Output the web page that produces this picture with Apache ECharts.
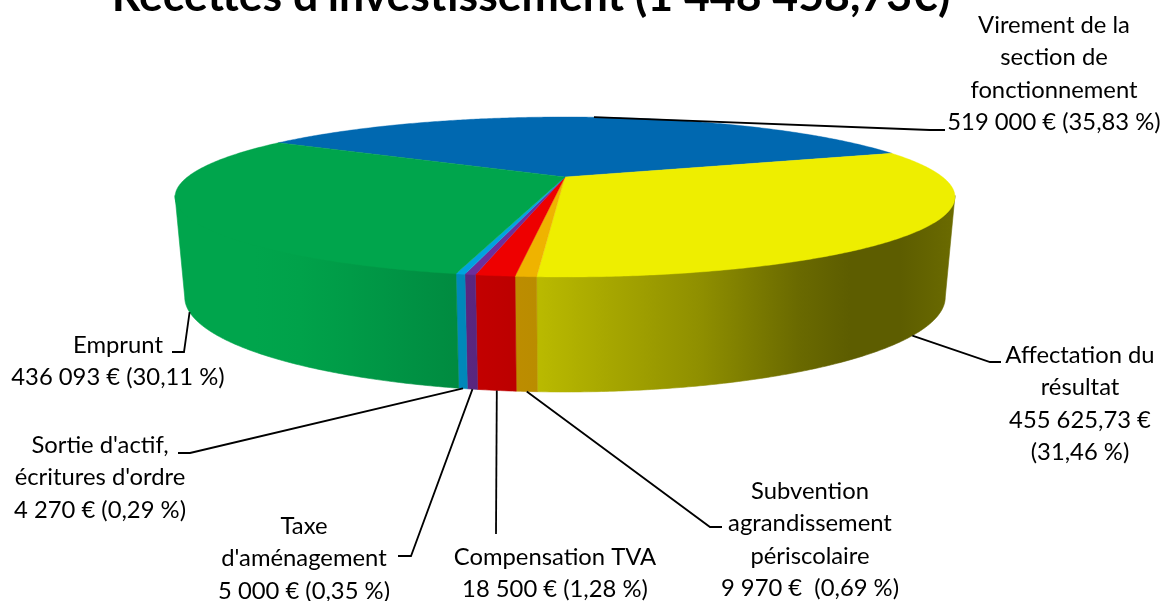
<!DOCTYPE html>
<html><head><meta charset="utf-8">
<script src="https://cdn.jsdelivr.net/npm/echarts@6/dist/echarts.min.js"></script>
<style>html,body{margin:0;padding:0;background:#fff}#c{width:1164px;height:601px}</style>
</head><body><div id="c"></div>
<script>
// --- data ---
const titleText = "Recettes d'investissement (1 448 458,73€)";
const categories = ["Virement de la section de fonctionnement","Affectation du résultat","Subvention agrandissement périscolaire","Compensation TVA","Taxe d'aménagement","Sortie d'actif, écritures d'ordre","Emprunt"];
const values = [519000, 455625.73, 9970, 18500, 5000, 4270, 436093];
const labelLines = [
  ["Virement de la","section de","fonctionnement","519 000 € (35,83 %)"],
  ["Affectation du","résultat","455 625,73 €","(31,46 %)"],
  ["Subvention","agrandissement","périscolaire","9 970 €  (0,69 %)"],
  ["Compensation TVA","18 500 € (1,28 %)"],
  ["Taxe","d'aménagement","5 000 € (0,35 %)"],
  ["Sortie d'actif,","écritures d'ordre","4 270 € (0,29 %)"],
  ["Emprunt","436 093 € (30,11 %)"]
];
const colors = ["#0068B0","#EEEE00","#EFB300","#EE0000","#6D2E9A","#00A3DF","#00A54C"];

// --- view geometry (perspective projection of the disc) ---
const view = {cx:565, k:0.25, startDeg:-59,
  top:{A:377.6, Y0:177, B:75}, bottom:{A:368.2, Y0:273.3, B:89}};
const wallShade = [[175,1],[255,1],[300,.98],[350,.94],[400,.89],[455,.84],[475,.82],[515,.79],[537,.78],[600,.71],[700,.6],[800,.44],[850,.39],[900,.39],[955,.45]];
// text block centre x, first-line middle y; leader bend and end points
const labelPos = [
  {x:1054,y:25,  bend:[930,130],end:[945,130]},
  {x:1080,y:355, bend:[990,362],end:[1001,362]},
  {x:810, y:491, bend:[710,527],end:[722,527]},
  {x:555, y:557, bend:[496,534],end:null},
  {x:304, y:526, bend:[411,556],end:[398,556]},
  {x:100, y:445, bend:[190,453],end:[178,453]},
  {x:118, y:345, bend:[184,352],end:[172,352]}
];
const lineH = 32.5;
const labelFont = "23.8px Lato";

const total = values.reduce((a,b)=>a+b,0);
const spans = []; {
  let a = view.startDeg;
  values.forEach(v=>{const d=v/total*360; spans.push([a,a+d]); a+=d;});
}
function project(deg, plane){
  const r=deg*Math.PI/180, u=Math.sin(r), v=Math.cos(r), w=1+view.k*v;
  return [view.cx+plane.A*u/w, plane.Y0-plane.B*v/w];
}
function arc(a,b,plane){
  const pts=[], n=Math.max(2,Math.ceil(Math.abs(b-a)/0.5));
  for(let i=0;i<=n;i++) pts.push(project(a+(b-a)*i/n,plane));
  return pts;
}
function shade(hex,f){
  const n=parseInt(hex.slice(1),16);
  const c=[n>>16&255,n>>8&255,n&255].map(x=>Math.round(x*f));
  return `rgb(${c[0]},${c[1]},${c[2]})`;
}
const silR = Math.acos(-view.k)*180/Math.PI, silL = 360-silR;
function wallRange(s){
  const a=Math.max(s[0],silR), b=Math.min(s[1],silL);
  return b>a?[a,b]:null;
}
function renderSlice(params){
  const i=params.dataIndex, s=spans[i], col=colors[i], children=[];
  const wr=wallRange(s);
  if(wr){
    // the wall's upper edge tucks slightly under the top face so no seam shows
    const upper=arc(wr[0],wr[1],view.top).map(p=>[p[0],p[1]-1.5]);
    const pts=upper.concat(arc(wr[0],wr[1],view.bottom).reverse());
    const x0=wallShade[0][0], x1=wallShade[wallShade.length-1][0];
    const fill={type:'linear',x:x0,y:0,x2:x1,y2:0,global:true,
      colorStops:wallShade.map(p=>({offset:(p[0]-x0)/(x1-x0),color:shade(col,p[1])}))};
    children.push({type:'polygon',shape:{points:pts},style:{fill:fill,stroke:fill,lineWidth:.6}});
  }
  const tp=[[view.cx,view.top.Y0]].concat(arc(s[0],s[1],view.top));
  children.push({type:'polygon',z2:5,shape:{points:tp},style:{fill:col,stroke:col,lineWidth:.4}});
  return {type:'group',children:children};
}
function renderLabel(params){
  const i=params.dataIndex, s=spans[i], mid=(s[0]+s[1])/2, p=labelPos[i];
  const front=mid>silR&&mid<silL;
  const start=project(mid,front?view.bottom:view.top);
  const pts=[start,p.bend]; if(p.end) pts.push(p.end);
  return {type:'group',children:[
    {type:'polyline',shape:{points:pts},style:{fill:null,stroke:'#000',lineWidth:1.8}},
    {type:'text',x:p.x,y:p.y-lineH/2,style:{text:labelLines[i].join('\n'),font:labelFont,fill:'#000',
      align:'center',verticalAlign:'top',lineHeight:lineH}}
  ]};
}
const chart=echarts.init(document.getElementById('c'),null,{renderer:'canvas'});
chart.setOption({
  animation:false,
  backgroundColor:'#fff',
  title:{text:titleText,left:526,top:-31,textAlign:'center',
    textStyle:{fontFamily:'Lato',fontSize:44.6,fontWeight:'bold',color:'#000'}},
  tooltip:{show:false},
  series:[
    {type:'custom',coordinateSystem:'none',renderItem:renderSlice,z:2,silent:true,clip:false,
      data:values.map((v,i)=>({name:categories[i],value:v}))},
    {type:'custom',coordinateSystem:'none',renderItem:renderLabel,z:3,silent:true,clip:false,
      data:values.map((v,i)=>({name:categories[i],value:v}))}
  ]
});
</script></body></html>
